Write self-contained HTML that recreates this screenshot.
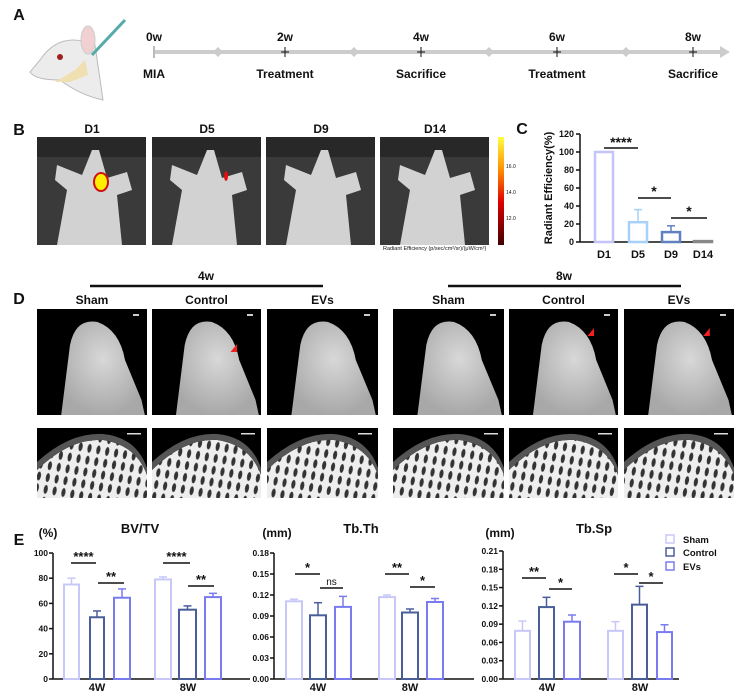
<!DOCTYPE html>
<html><head><meta charset="utf-8"><style>
body{margin:0;background:#fff;}
svg{display:block;font-family:"Liberation Sans",Arial,sans-serif;}
</style></head><body>
<svg id="s" width="746" height="696" viewBox="0 0 746 696" xmlns="http://www.w3.org/2000/svg">
<defs>
<radialGradient id="bone" cx="50%" cy="40%" r="60%"><stop offset="0" stop-color="#d8d8d8"/><stop offset="1" stop-color="#a8a8a8"/></radialGradient>
<linearGradient id="cb" x1="0" y1="0" x2="0" y2="1"><stop offset="0" stop-color="#ffff40"/><stop offset="0.3" stop-color="#ff9000"/><stop offset="0.6" stop-color="#e00000"/><stop offset="1" stop-color="#400000"/></linearGradient>
<pattern id="trab" width="9" height="12" patternUnits="userSpaceOnUse" patternTransform="rotate(10)"><rect width="9" height="12" fill="#eee"/><ellipse cx="4" cy="6" rx="2" ry="4.5" fill="#333"/></pattern>
</defs>
<g id="g"></g>
</svg>
<script>
const g=document.getElementById('g');let h='';
function T(x,y,t,o={}){h+=`<text x="${x}" y="${y}" font-size="${o.s||12}" font-weight="${o.w||'bold'}" text-anchor="${o.a||'middle'}" fill="${o.c||'#111'}" ${o.tr?`transform="${o.tr}"`:''}>${t}</text>`;}
function L(x1,y1,x2,y2,c='#111',w=1.5){h+=`<line x1="${x1}" y1="${y1}" x2="${x2}" y2="${y2}" stroke="${c}" stroke-width="${w}"/>`;}
function R(x,y,w,hh,f,s='none',sw=0){h+=`<rect x="${x}" y="${y}" width="${w}" height="${hh}" fill="${f}" stroke="${s}" stroke-width="${sw}"/>`;}
// A
T(19,20,'A',{s:16,w:'bold'});
// mouse
h+=`<path d="M40 60 Q60 30 95 45 L103 100 Q80 95 60 80 Q35 80 30 72 Z" fill="#ececec" stroke="#bbb"/>`;
h+=`<ellipse cx="88" cy="40" rx="7" ry="14" fill="#f0d0d0" stroke="#ccc"/>`;
h+=`<circle cx="60" cy="57" r="3" fill="#a02020"/>`;
h+=`<path d="M55 82 L75 70 L85 60 L88 75 L70 82 Z" fill="#f0dfb0"/>`;
L(92,55,125,20,'#5aa',3);
L(154,52,722,52,'#ccc',4);
h+=`<polygon points="720,46 730,52 720,58" fill="#ccc"/>`;
[218,354,489,626].forEach(x=>h+=`<polygon points="${x-5},52 ${x},47 ${x+5},52 ${x},57" fill="#ccc"/>`);
[[154,'0w','MIA'],[285,'2w','Treatment'],[421,'4w','Sacrifice'],[557,'6w','Treatment'],[693,'8w','Sacrifice']].forEach(([x,a,b],i)=>{
 T(x,41,a,{s:12});T(x,78,b,{s:12});
 if(i==0)L(x,46,x,58,'#bbb',2);else{L(x,47,x,57,'#111',1);L(x-4,52,x+4,52,'#111',1);}
});
// B
T(19,135,'B',{s:16});
[[37,'D1'],[152,'D5'],[266,'D9'],[380,'D14']].forEach(([x,l],i)=>{
 T(x+55,133,l,{s:12});
 R(x,137,109,108,'#3a3a3a');
 R(x,137,109,20,'#282828');
 h+=`<path d="M${x+20} 165 L${x+45} 175 L${x+55} 150 L${x+62} 150 L${x+70} 178 L${x+90} 172 L${x+95} 190 L${x+80} 195 L${x+85} 245 L${x+20} 245 L${x+30} 190 L${x+18} 180 Z" fill="#d2d2d2"/>`;
 if(i==0)h+=`<ellipse cx="${x+64}" cy="182" rx="7" ry="9" fill="#ffee00" stroke="#d01010" stroke-width="2"/>`;
 if(i==1)h+=`<ellipse cx="${x+74}" cy="176" rx="2" ry="5" fill="#e01010"/>`;
});
R(498,137,6,108,'url(#cb)');
[['16.0',168],['14.0',194],['12.0',220]].forEach(([t,y])=>T(506,y,t,{s:5,a:'start',w:'normal'}));
T(383,250,'Radiant Efficiency (p/sec/cm²/sr)/(μW/cm²)',{s:5.5,a:'start',w:'normal'});
// C
T(522,134,'C',{s:16});
L(580,134,580,242);L(580,242,707,242);
for(let v=0;v<=120;v+=20){let y=242-v*0.9;L(576,y,580,y);T(574,y+3,v,{s:9,a:'end'});}
T(552,188,'Radiant Efficiency(%)',{s:11,tr:'rotate(-90 552 188)'});
[[595,100,0,'#c4c4f8','D1'],[629,22,14,'#a8d0f8','D5'],[662,11,7,'#6080c0','D9'],[694,1,0,'#888','D14']].forEach(([x,v,e,c,l])=>{
 let y=242-v*0.9;R(x,y,18,242-y,'#fff',c,2.5);
 if(e){L(x+9,y,x+9,y-e*0.9,c,1.5);L(x+5,y-e*0.9,x+13,y-e*0.9,c,1.5);}
 T(x+9,258,l,{s:11});
});
L(604,148,638,148);T(621,147,'****',{s:14});
L(638,198,671,198);T(654,196,'*',{s:14});
L(671,218,707,218);T(689,216,'*',{s:14});
// D
T(19,304,'D',{s:16});
L(90,286,323,286,'#111',2.5);T(206,280,'4w',{s:12});
L(448,286,681,286,'#111',2.5);T(564,280,'8w',{s:12});
const cols=[[37,147],[152,261],[267,378],[393,504],[509,618],[624,734]];
const nm=['Sham','Control','EVs'];
cols.forEach(([a,b],i)=>{
 let w=b-a,cx=(a+b)/2;
 T(cx,304,nm[i%3],{s:12});
 R(a,309,w,106,'#000');
 h+=`<path d="M${a+w*0.22} 415 L${a+w*0.3} 345 Q${a+w*0.35} 318 ${a+w*0.55} 322 Q${a+w*0.75} 330 ${a+w*0.8} 360 L${a+w*0.95} 400 L${a+w*0.98} 415 Z" fill="url(#bone)"/>`;
 R(b-14,314,6,2,'#ccc');
 if(i==1||i==4||i==5)h+=`<polygon points="${a+w*0.72},${i==1?352:336} ${a+w*0.78},${i==1?344:328} ${a+w*0.78},${i==1?352:336}" fill="#f02020"/>`;
 R(a,428,w,70,'#000');
 h+=`<path d="M${a} 498 L${a} 470 Q${a+w*0.3} 438 ${a+w*0.6} 440 Q${a+w*0.9} 445 ${a+w} 475 L${a+w} 498 Z" fill="url(#trab)"/>`;
 h+=`<path d="M${a} 470 Q${a+w*0.3} 438 ${a+w*0.6} 440 Q${a+w*0.9} 445 ${a+w} 475 L${a+w} 468 Q${a+w*0.9} 437 ${a+w*0.6} 434 Q${a+w*0.3} 432 ${a} 462Z" fill="#555"/>`;
 R(b-20,433,14,1.5,'#ddd');
});
// E
T(19,545,'E',{s:16});
const C=['#c8c8f8','#4a5f9a','#7b7bf0'];
function chart(ax,xend,top,max,step,dec,title,unit,tx,ux,bars,groups,sig){
 const b0=679,sc=(b0-top)/max;
 L(ax,top,ax,b0);L(ax,b0,xend,b0);
 for(let v=0;v<=max+1e-9;v+=step){let y=b0-v*sc;L(ax-4,y,ax,y);T(ax-5,y+3,v.toFixed(dec),{s:8.5,a:'end'});}
 T(tx,533,title,{s:13});T(ux,537,unit,{s:12});
 bars.forEach(([x1,x2,v,e],i)=>{let y=b0-v*sc,c=C[i%3],m=(x1+x2)/2;
  R(x1,y,x2-x1,b0-y,'#fff',c,2);L(m,y,m,y-e*sc,c,1.5);L(m-4,y-e*sc,m+4,y-e*sc,c,1.5);});
 groups.forEach(([x,l])=>T(x,691,l,{s:11}));
 sig.forEach(([x1,x2,y,t])=>{L(x1,y,x2,y);T((x1+x2)/2,y-(t=='ns'?3:2),t,{s:t=='ns'?10:13,w:t=='ns'?'normal':'bold'});});
}
chart(53,250,553,100,20,0,'BV/TV','(%)',140,48,
 [[64,79,75,5],[90,104,49,5],[114,130,64.5,7],[155,171,79,2],[179,196,55,3],[205,221,65,3]],
 [[97,'4W'],[188,'8W']],
 [[71,96,563,'****'],[98,124,583,'**'],[163,190,563,'****'],[188,214,586,'**']]);
chart(274,474,553,0.18,0.03,2,'Tb.Th','(mm)',361,277,
 [[286,302,.111,.003],[310,326,.091,.018],[335,351,.103,.015],[379,395,.117,.003],[402,418,.095,.005],[427,443,.110,.005]],
 [[318,'4W'],[410,'8W']],
 [[295,320,574,'*'],[320,343,588,'ns'],[385,409,574,'**'],[410,435,587,'*']]);
chart(503,679,551,0.21,0.03,2,'Tb.Sp','(mm)',594,500,
 [[515,530,.079,.016],[539,554,.118,.016],[564,580,.094,.011],[608,623,.079,.015],[632,647,.122,.03],[657,672,.077,.012]],
 [[547,'4W'],[640,'8W']],
 [[522,546,578,'**'],[549,572,589,'*'],[614,638,574,'*'],[639,663,583,'*']]);
[['Sham',540],['Control',553],['EVs',567]].forEach(([t,y],i)=>{R(666,y-5,8,8,'#fff',C[i],1.5);T(683,y+3,t,{s:9.5,a:'start'});});
g.innerHTML=h;
</script>
</body></html>
